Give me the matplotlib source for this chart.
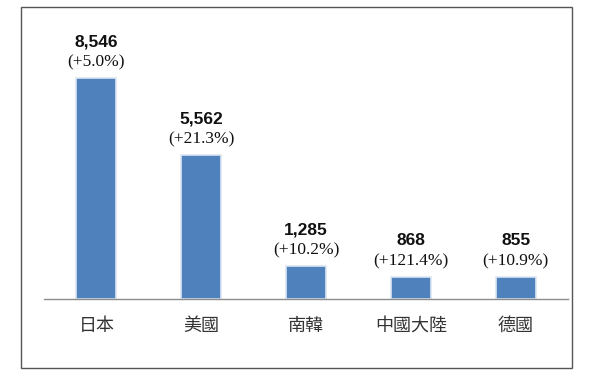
import matplotlib.pyplot as plt
import matplotlib.patches as mpatches

countries = ['日本', '美國', '南韓', '中國大陸', '德國']
values = [8546, 5562, 1285, 868, 855]
growth = ['(+5.0%)', '(+21.3%)', '(+10.2%)', '(+121.4%)', '(+10.9%)']

fig = plt.figure(figsize=(5.91, 3.84), dpi=100)

# outer frame
frame = mpatches.Rectangle((21 / 591, 1 - 368 / 384), (572 - 21) / 591, (368 - 7) / 384,
                           transform=fig.transFigure, fill=False,
                           edgecolor='#555555', linewidth=1.0)
fig.patches.append(frame)

ax = fig.add_axes([44 / 591, 1 - 299 / 384, (568 - 44) / 591, (299 - 30) / 384])
x = range(len(countries))
bars = ax.bar(x, values, width=0.38, color='#4f81bd',
              edgecolor='#dce6f2', linewidth=1.2)

for xi, v, g in zip(x, values, growth):
    ax.annotate(f'{v:,}', (xi, v), xytext=(0, 26), textcoords='offset points',
                ha='center', va='center', fontsize=12.5, fontweight='bold',
                family='Liberation Sans', color='#111111')
    ax.annotate(g, (xi, v), xytext=(0, 11), textcoords='offset points',
                ha='center', va='center', fontsize=12.5,
                family='Liberation Serif', color='#111111')

ax.set_xlim(-0.5, len(countries) - 0.5)
ax.set_ylim(0, 10400)
ax.set_xticks(list(x))
ax.set_xticklabels(countries, family=['Noto Sans CJK TC', 'DejaVu Sans'],
                   fontsize=13, color='#333333')
ax.tick_params(axis='x', length=0, pad=13)
ax.set_yticks([])
for s in ['top', 'right', 'left']:
    ax.spines[s].set_visible(False)
ax.spines['bottom'].set_color('#8c8c8c')
ax.spines['bottom'].set_linewidth(1.0)

fig.savefig('out.png', dpi=100)
